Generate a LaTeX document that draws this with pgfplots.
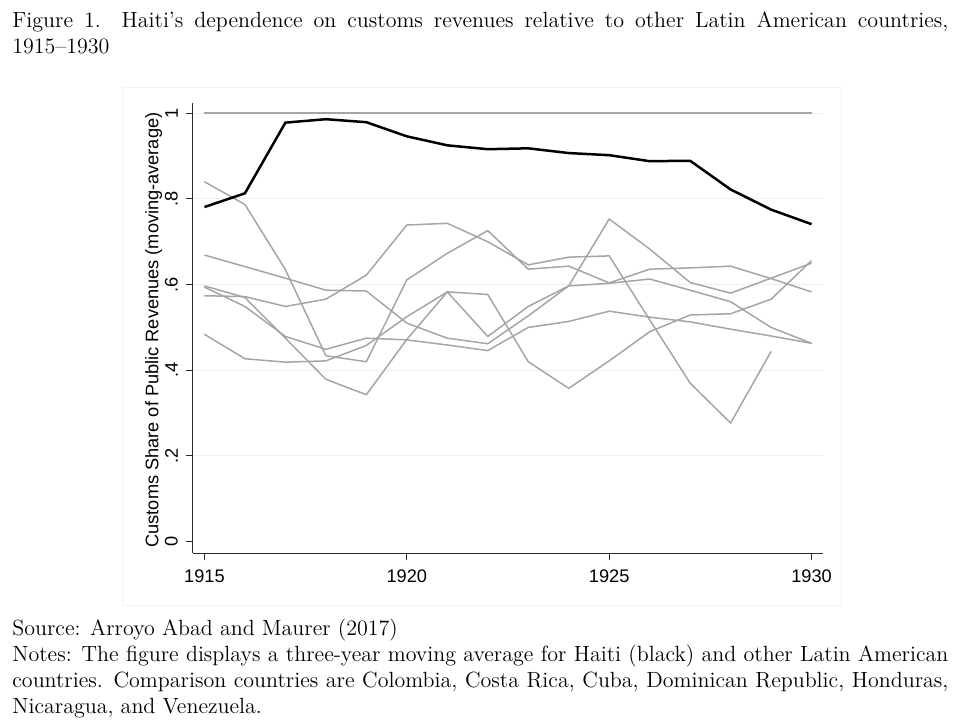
\documentclass[border=0pt]{standalone}
\usepackage{fontspec}
\usepackage{pgfplots}
\pgfplotsset{compat=1.18}
\newfontfamily\arial{Liberation Sans}
\definecolor{ln}{RGB}{165,165,165}
\definecolor{grd}{RGB}{232,240,242}
\definecolor{axc}{RGB}{45,45,45}
\newcommand{\chartfont}{\arial\fontsize{9.1}{10}\selectfont}
\begin{document}
\begin{tikzpicture}[x=1pt,y=1pt]
\path[use as bounding box] (0,0) rectangle (481,360);
\draw[black!5, line width=0.5pt] (61,57.5) rectangle (420.5,316.5);
\begin{axis}[
  at={(96.35pt,83.35pt)}, anchor=south west,
  scale only axis, width=315.3pt, height=225.15pt,
  xmin=1914.71, xmax=1930.29, ymin=-0.0271, ymax=1.0238,
  axis x line*=bottom, axis y line*=left,
  axis line style={axc, line width=0.5pt, -},
  every tick/.style={axc, line width=0.5pt},
  tick align=outside, major tick length=3.5pt,
  xtick={1915,1920,1925,1930},
  xticklabels={1915,1920,1925,1930},
  ytick={0,0.2,0.4,0.6,0.8,1},
  yticklabels={0,.2,.4,.6,.8,1},
  xticklabel style={font=\chartfont, anchor=north, inner xsep=0pt, inner ysep=4.5pt},
  yticklabel style={font=\chartfont, rotate=90, anchor=south, inner xsep=0pt, inner ysep=3.7pt},
  extra y ticks={0.2,0.4,0.6,0.8,1},
  extra y tick labels={},
  extra y tick style={ymajorgrids=true, major tick length=0pt},
  major grid style={grd, line width=0.5pt},
  clip=false,
]
% constant series at 1
\addplot[ln, line width=0.75pt] coordinates {(1915,1) (1930,1)};
% A
\addplot[ln, line width=0.75pt] coordinates {
(1915,0.840) (1916,0.787) (1917,0.635) (1918,0.434) (1919,0.420) (1920,0.611)
(1921,0.673) (1922,0.726) (1923,0.636) (1924,0.643) (1925,0.604) (1926,0.636)
(1927,0.639) (1928,0.643) (1929,0.614) (1930,0.583)};
% B
\addplot[ln, line width=0.75pt] coordinates {
(1915,0.669) (1916,0.642) (1917,0.615) (1918,0.587) (1919,0.585) (1920,0.510)
(1921,0.475) (1922,0.462) (1923,0.527) (1924,0.597) (1925,0.603) (1926,0.613)
(1927,0.587) (1928,0.560) (1929,0.500) (1930,0.463)};
% C
\addplot[ln, line width=0.75pt] coordinates {
(1915,0.597) (1916,0.570) (1917,0.475) (1918,0.379) (1919,0.343) (1920,0.472)
(1921,0.583) (1922,0.577) (1923,0.420) (1924,0.358) (1925,0.422) (1926,0.490)
(1927,0.529) (1928,0.532) (1929,0.566) (1930,0.656)};
% D
\addplot[ln, line width=0.75pt] coordinates {
(1915,0.594) (1916,0.549) (1917,0.479) (1918,0.449) (1919,0.475) (1920,0.471)
(1921,0.459) (1922,0.446) (1923,0.500) (1924,0.514) (1925,0.538) (1926,0.524)
(1927,0.513) (1928,0.496) (1929,0.480) (1930,0.463)};
% E
\addplot[ln, line width=0.75pt] coordinates {
(1915,0.574) (1916,0.572) (1917,0.549) (1918,0.566) (1919,0.622) (1920,0.739)
(1921,0.743) (1922,0.700) (1923,0.646) (1924,0.664) (1925,0.667) (1926,0.518)
(1927,0.370) (1928,0.277) (1929,0.444)};
% F
\addplot[ln, line width=0.75pt] coordinates {
(1915,0.484) (1916,0.427) (1917,0.419) (1918,0.422) (1919,0.458) (1920,0.525)
(1921,0.583) (1922,0.479) (1923,0.549) (1924,0.597) (1925,0.753) (1926,0.683)
(1927,0.605) (1928,0.580) (1929,0.615) (1930,0.650)};
% Haiti
\addplot[black, line width=1.25pt] coordinates {
(1915,0.781) (1916,0.813) (1917,0.978) (1918,0.986) (1919,0.979) (1920,0.946)
(1921,0.925) (1922,0.916) (1923,0.918) (1924,0.907) (1925,0.902) (1926,0.888)
(1927,0.889) (1928,0.822) (1929,0.775) (1930,0.741)};
\end{axis}
\node[rotate=90, anchor=base, inner sep=0pt, font=\chartfont] at (79.2,195) {Customs Share of Public Revenues (moving-average)};
\node[anchor=base west, inner sep=0pt, font=\fontsize{11}{13}\selectfont] at (6,346.5) {\parbox[t]{468pt}{Figure 1. Haiti's dependence on customs revenues relative to other Latin American countries,\linebreak 1915--1930}};
\node[anchor=base west, inner sep=0pt, font=\fontsize{11}{13}\selectfont] at (6,42.5) {\parbox[t]{468pt}{Source: Arroyo Abad and Maurer (2017)\\ Notes: The figure displays a three-year moving average for Haiti (black) and other Latin American\linebreak countries. Comparison countries are Colombia, Costa Rica, Cuba, Dominican Republic, Honduras,\linebreak Nicaragua, and Venezuela.}};
\end{tikzpicture}
\end{document}
